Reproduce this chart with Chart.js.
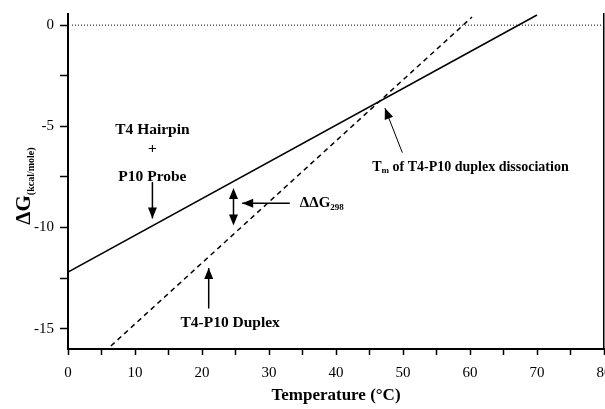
<!DOCTYPE html>
<html>
<head>
<meta charset="utf-8">
<script src="https://cdn.jsdelivr.net/npm/chart.js@4.4.1/dist/chart.umd.min.js"></script>
<style>
  body { margin: 0; background: #fff; }
</style>
</head>
<body>
<canvas id="dgChart" width="605" height="409"></canvas>
<script>
// Datos
const hairpinTemp = [0, 70];
const hairpinDG = [-12.2, 0.5];
const duplexTemp = [6.4, 60.3];
const duplexDG = [-15.85, 0.4];
const zeroTemp = [0.6, 80];
const zeroDG = [0, 0];
const xTickLabels = [0, 10, 20, 30, 40, 50, 60, 70, 80];
const yTickLabels = [0, -5, -10, -15];

const toPoints = (xs, ys) => xs.map((x, i) => ({ x: x, y: ys[i] }));

// Anotaciones en coordenadas de datos
const textNotes = [
    { text: 'T4 Hairpin', x: 12.6, y: -5.2, align: 'center' },
    { text: '+', x: 12.6, y: -6.1, align: 'center' },
    { text: 'P10 Probe', x: 12.6, y: -7.5, align: 'center' },
    { text: 'T4-P10 Duplex', x: 24.2, y: -14.7, align: 'center' },
];
const arrowNotes = [
    { from: [12.6, -7.75], to: [12.6, -9.55], double: false },
    { from: [24.7, -8.95], to: [24.7, -8.05], double: true },
    { from: [33.1, -8.8], to: [26.0, -8.8], double: false },
    { from: [21.0, -14.0], to: [21.0, -12.0], double: false },
    { from: [49.9, -6.3], to: [47.3, -4.1], double: false, thin: true },
];

const serif = '"Liberation Serif", "Times New Roman", serif';

function arrowHead(ctx, x0, y0, x1, y1) {
    const ang = Math.atan2(y1 - y0, x1 - x0);
    const len = 11, half = 4.5;
    ctx.beginPath();
    ctx.moveTo(x1, y1);
    ctx.lineTo(x1 - len * Math.cos(ang) + half * Math.sin(ang), y1 - len * Math.sin(ang) - half * Math.cos(ang));
    ctx.lineTo(x1 - len * Math.cos(ang) - half * Math.sin(ang), y1 - len * Math.sin(ang) + half * Math.cos(ang));
    ctx.closePath();
    ctx.fill();
}

const notesPlugin = {
    id: 'notes',
    afterDraw(chart) {
        const ctx = chart.ctx;
        const xs = chart.scales.x, ys = chart.scales.y;
        ctx.save();
        ctx.fillStyle = '#000';
        ctx.strokeStyle = '#000';

        ctx.font = 'bold 15.5px ' + serif;
        ctx.textBaseline = 'middle';
        textNotes.forEach(n => {
            ctx.textAlign = n.align;
            ctx.fillText(n.text, xs.getPixelForValue(n.x), ys.getPixelForValue(n.y));
        });

        // Delta Delta G 298
        ctx.textAlign = 'left';
        let px = xs.getPixelForValue(34.6), py = ys.getPixelForValue(-8.8);
        ctx.font = 'bold 15px ' + serif;
        ctx.fillText('\u0394\u0394G', px, py);
        let w = ctx.measureText('\u0394\u0394G').width;
        ctx.font = 'bold 9px ' + serif;
        ctx.fillText('298', px + w, py + 4);

        // Tm
        px = xs.getPixelForValue(45.4); py = ys.getPixelForValue(-7.05);
        ctx.font = 'bold 14px ' + serif;
        ctx.fillText('T', px, py);
        w = ctx.measureText('T').width;
        ctx.font = 'bold 9px ' + serif;
        ctx.fillText('m', px + w, py + 3);
        const w2 = ctx.measureText('m').width;
        ctx.font = 'bold 14px ' + serif;
        ctx.fillText(' of T4-P10 duplex dissociation', px + w + w2, py);

        // Flechas
        arrowNotes.forEach(a => {
            const x0 = xs.getPixelForValue(a.from[0]), y0 = ys.getPixelForValue(a.from[1]);
            const x1 = xs.getPixelForValue(a.to[0]), y1 = ys.getPixelForValue(a.to[1]);
            ctx.lineWidth = a.thin ? 1 : 1.5;
            if (a.double) {
                const top = ys.getPixelForValue(-8.05), bot = ys.getPixelForValue(-9.9);
                ctx.beginPath();
                ctx.moveTo(x0, top + 4);
                ctx.lineTo(x0, bot - 4);
                ctx.stroke();
                arrowHead(ctx, x0, bot, x0, top);
                arrowHead(ctx, x0, top, x0, bot);
                return;
            }
            ctx.beginPath();
            ctx.moveTo(x0, y0);
            ctx.lineTo(x1, y1);
            ctx.stroke();
            arrowHead(ctx, x0, y0, x1, y1);
        });

        // Titulo del eje Y
        ctx.translate(30, 186);
        ctx.rotate(-Math.PI / 2);
        ctx.textAlign = 'left';
        ctx.textBaseline = 'alphabetic';
        ctx.font = 'bold 21px ' + serif;
        const dgw = ctx.measureText('\u0394G').width;
        ctx.font = 'bold 10px ' + serif;
        const subw = ctx.measureText('(kcal/mole)').width;
        const start = -(dgw + subw) / 2;
        ctx.font = 'bold 21px ' + serif;
        ctx.fillText('\u0394G', start, 0);
        ctx.font = 'bold 10px ' + serif;
        ctx.fillText('(kcal/mole)', start + dgw, 4);
        ctx.restore();
    }
};

const ctx = document.getElementById('dgChart').getContext('2d');
const dgChart = new Chart(ctx, {
    type: 'line',
    data: {
        datasets: [
            {
                data: toPoints(hairpinTemp, hairpinDG),
                borderColor: '#000',
                borderWidth: 1.5,
                pointRadius: 0,
            },
            {
                data: toPoints(duplexTemp, duplexDG),
                borderColor: '#000',
                borderWidth: 1.5,
                borderDash: [5, 4],
                pointRadius: 0,
            },
            {
                data: toPoints(zeroTemp, zeroDG),
                borderColor: '#000',
                borderWidth: 1,
                borderDash: [1, 2],
                pointRadius: 0,
            },
        ],
    },
    options: {
        responsive: false,
        devicePixelRatio: 1,
        animation: false,
        layout: { padding: { top: 14, right: 1, left: 0, bottom: 0 } },
        plugins: {
            legend: { display: false },
            tooltip: { enabled: false },
        },
        scales: {
            x: {
                type: 'linear',
                min: 0,
                max: 80,
                afterFit(scale) {
                    scale.height = 60;
                    scale.paddingLeft = 0;
                    scale.paddingRight = 0;
                },
                afterBuildTicks(scale) {
                    const t = [];
                    for (let v = 0; v <= 80; v += 5) t.push({ value: v });
                    scale.ticks = t;
                },
                ticks: {
                    autoSkip: false,
                    maxRotation: 0,
                    color: '#000',
                    font: { family: serif, size: 15 },
                    padding: 9,
                    callback: v => xTickLabels.includes(v) ? String(v) : '',
                },
                grid: { drawOnChartArea: false, tickLength: 6, tickWidth: 1.5, color: '#000' },
                border: { color: '#000', width: 2 },
                title: {
                    display: true,
                    text: 'Temperature (\u00B0C)',
                    color: '#000',
                    font: { family: serif, size: 17, weight: 'bold' },
                    padding: { top: 0, bottom: 3 },
                },
            },
            y: {
                min: -16,
                max: 0.55,
                afterFit(scale) {
                    scale.width = 68;
                    scale.paddingTop = 0;
                    scale.paddingBottom = 0;
                },
                afterBuildTicks(scale) {
                    scale.ticks = [-15, -12.5, -10, -7.5, -5, -2.5, 0].map(v => ({ value: v }));
                },
                ticks: {
                    autoSkip: false,
                    color: '#000',
                    font: { family: serif, size: 15 },
                    padding: 6,
                    callback: v => yTickLabels.includes(v) ? String(v) : '',
                },
                grid: { drawOnChartArea: false, tickLength: 8, tickWidth: 1.5, color: '#000' },
                border: { color: '#000', width: 2 },
            },
            yRight: {
                position: 'right',
                min: -16,
                max: 0.55,
                afterFit(scale) { scale.width = 0; },
                ticks: { display: false },
                grid: { display: false },
                border: { color: '#000', width: 1.5 },
            },
        },
    },
    plugins: [notesPlugin],
});
</script>
</body>
</html>
